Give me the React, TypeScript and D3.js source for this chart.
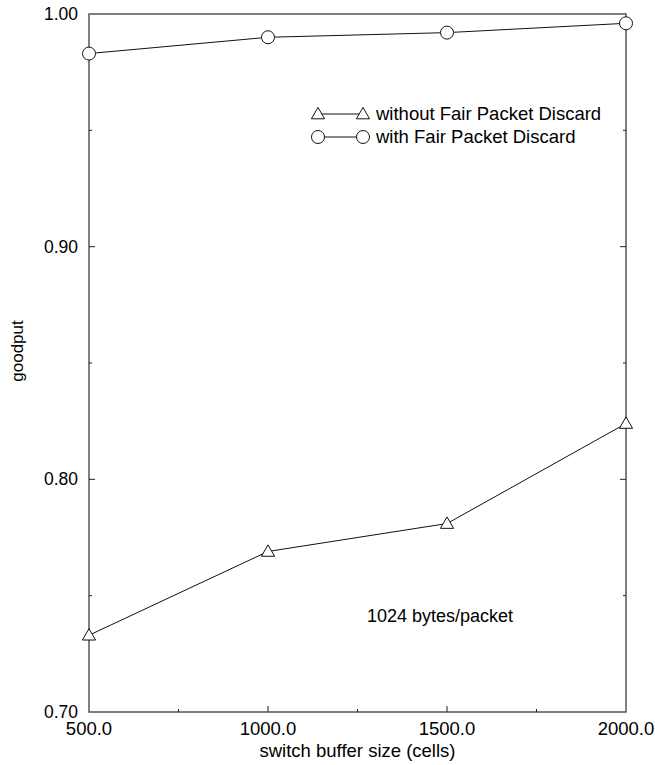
import { useRef, useEffect } from "react";
import * as d3 from "d3";

// data
const bufferSizes = [500, 1000, 1500, 2000];
const withoutFPD = [0.733, 0.769, 0.781, 0.824];
const withFPD = [0.983, 0.99, 0.992, 0.996];
const xTicks = [500, 1000, 1500, 2000];
const xMinorTicks = [750, 1250, 1750];
const yTicks = [0.7, 0.8, 0.9, 1.0];
const yMinorTicks = [0.75, 0.85, 0.95];
const seriesNames = ["without Fair Packet Discard", "with Fair Packet Discard"];

export default function App() {
  const ref = useRef<SVGSVGElement>(null);

  useEffect(() => {
    const width = 655,
      height = 765;
    const margin = { top: 14, right: 29, bottom: 53, left: 89 };
    const font = "'Liberation Sans', Arial, sans-serif";
    const fs = 18.5;

    const svg = d3.select(ref.current);
    svg.selectAll("*").remove();

    const x = d3
      .scaleLinear()
      .domain([500, 2000])
      .range([margin.left, width - margin.right]);
    const y = d3
      .scaleLinear()
      .domain([0.7, 1.0])
      .range([height - margin.bottom, margin.top]);

    const frame = "#555";
    const x0 = x(500),
      x1 = x(2000),
      y0 = y(0.7),
      y1 = y(1.0);

    // frame
    svg
      .append("rect")
      .attr("x", x0)
      .attr("y", y1)
      .attr("width", x1 - x0)
      .attr("height", y0 - y1)
      .attr("fill", "none")
      .attr("stroke", frame)
      .attr("stroke-width", 1.5);

    // inner ticks
    const tg = svg.append("g").attr("stroke", "#222").attr("stroke-width", 1);
    tg.selectAll(".xmaj")
      .data(xTicks.slice(1, -1))
      .join("line")
      .attr("x1", (d) => x(d))
      .attr("x2", (d) => x(d))
      .attr("y1", y0)
      .attr("y2", y0 - 6);
    tg.selectAll(".xmin")
      .data(xMinorTicks)
      .join("line")
      .attr("x1", (d) => x(d))
      .attr("x2", (d) => x(d))
      .attr("y1", y0)
      .attr("y2", y0 - 3);
    [x0, x1].forEach((xe, i) => {
      const dir = i === 0 ? 1 : -1;
      tg.append("g")
        .selectAll("line")
        .data(yTicks.slice(1, -1))
        .join("line")
        .attr("x1", xe)
        .attr("x2", xe + dir * 6)
        .attr("y1", (d) => y(d))
        .attr("y2", (d) => y(d));
      tg.append("g")
        .selectAll("line")
        .data(yMinorTicks)
        .join("line")
        .attr("x1", xe)
        .attr("x2", xe + dir * 3)
        .attr("y1", (d) => y(d))
        .attr("y2", (d) => y(d));
    });

    // tick labels
    svg
      .append("g")
      .selectAll("text")
      .data(yTicks)
      .join("text")
      .attr("x", x0 - 11)
      .attr("y", (d) => y(d))
      .attr("dy", "0.35em")
      .attr("text-anchor", "end")
      .attr("font-family", font)
      .attr("font-size", 17.5)
      .text((d) => d3.format(".2f")(d));
    svg
      .append("g")
      .selectAll("text")
      .data(xTicks)
      .join("text")
      .attr("x", (d) => x(d))
      .attr("y", y0 + 23)
      .attr("text-anchor", "middle")
      .attr("font-family", font)
      .attr("font-size", fs)
      .text((d) => d3.format(".1f")(d));

    // axis titles
    svg
      .append("text")
      .attr("x", (x0 + x1) / 2)
      .attr("y", height - 8)
      .attr("text-anchor", "middle")
      .attr("font-family", font)
      .attr("font-size", fs)
      .text("switch buffer size (cells)");
    svg
      .append("text")
      .attr("transform", `translate(23,${(y0 + y1) / 2 - 12}) rotate(-90)`)
      .attr("text-anchor", "middle")
      .attr("font-family", font)
      .attr("font-size", 17)
      .text("goodput");

    // markers
    const tri = d3.symbol().type(d3.symbolTriangle).size(75);
    const marker = (g: any, cx: number, cy: number, kind: string) => {
      if (kind === "tri") {
        g.append("path")
          .attr("d", tri())
          .attr("transform", `translate(${cx},${cy + 1})`)
          .attr("fill", "white")
          .attr("stroke", "#111");
      } else {
        g.append("circle")
          .attr("cx", cx)
          .attr("cy", cy)
          .attr("r", 6.5)
          .attr("fill", "white")
          .attr("stroke", "#111");
      }
    };
    const drawSeries = (vals: number[], kind: string) => {
      const line = d3
        .line<number>()
        .x((_, i) => x(bufferSizes[i]))
        .y((d) => y(d));
      svg
        .append("path")
        .attr("d", line(vals))
        .attr("fill", "none")
        .attr("stroke", "#111")
        .attr("stroke-width", 1);
      const g = svg.append("g");
      vals.forEach((v, i) => marker(g, x(bufferSizes[i]), y(v), kind));
    };
    drawSeries(withoutFPD, "tri");
    drawSeries(withFPD, "circ");

    // legend
    const lg = svg.append("g");
    seriesNames.forEach((name, i) => {
      const ly = 114 + i * 23;
      const kind = i === 0 ? "tri" : "circ";
      lg.append("line")
        .attr("x1", 318)
        .attr("x2", 363)
        .attr("y1", ly)
        .attr("y2", ly)
        .attr("stroke", "#111");
      marker(lg, 318, ly, kind);
      marker(lg, 363, ly, kind);
      lg.append("text")
        .attr("x", 376)
        .attr("y", ly)
        .attr("dy", "0.35em")
        .attr("font-family", font)
        .attr("font-size", fs)
        .text(name);
    });

    svg
      .append("text")
      .attr("x", 367)
      .attr("y", 622)
      .attr("font-family", font)
      .attr("font-size", 18)
      .text("1024 bytes/packet");
  }, []);

  return (
    <div style={{ position: "absolute", left: 0, top: 0 }}>
      <svg ref={ref} width={655} height={765} style={{ display: "block" }} />
    </div>
  );
}
